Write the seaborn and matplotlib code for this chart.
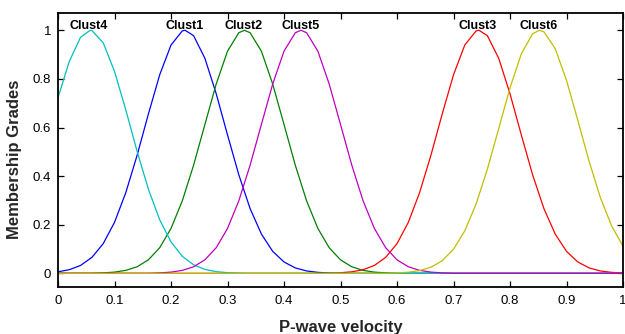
import numpy as np
import pandas as pd
import matplotlib
matplotlib.use("Agg")
import matplotlib.pyplot as plt
import seaborn as sns

# ---- data ----
x_grid = [round(0.02 * i, 2) for i in range(51)]

clust4 = [0.7226, 0.872, 0.9715, 0.999, 0.9485, 0.831, 0.6724, 0.5021, 0.3461, 0.2203,
          0.1294, 0.0702, 0.0351, 0.0162, 0.0069, 0.0027, 0.001] + [0.0] * 34
clust1 = [0.0063, 0.0150, 0.0326, 0.0657, 0.1221, 0.2096, 0.3321, 0.4855, 0.6554, 0.8167,
          0.9394, 0.9975, 0.9778, 0.8847, 0.7390, 0.5698, 0.4056, 0.2665, 0.1616, 0.0905,
          0.0468, 0.0223, 0.0098, 0.0040, 0.0015] + [0.0] * 26
clust2 = [0.0] * 4 + [0.0019, 0.0050, 0.0122, 0.0270, 0.0556, 0.1054, 0.1845, 0.2982, 0.4449,
                      0.6126, 0.7788, 0.9139, 0.99, 0.99, 0.9139, 0.7788, 0.6126, 0.4449,
                      0.2982, 0.1845, 0.1054, 0.0556, 0.0270, 0.0122, 0.0050, 0.0019] + [0.0] * 21
clust5 = [0.0] * 9 + [0.0019, 0.0050, 0.0122, 0.0270, 0.0556, 0.1054, 0.1845, 0.2982, 0.4449,
                      0.6126, 0.7788, 0.9139, 0.99, 0.99, 0.9139, 0.7788, 0.6126, 0.4449,
                      0.2982, 0.1845, 0.1054, 0.0556, 0.0270, 0.0122, 0.0050, 0.0019] + [0.0] * 16
clust3 = [0.0] * 25 + [0.0025, 0.0063, 0.0150, 0.0326, 0.0657, 0.1221, 0.2096, 0.3321, 0.4855,
                       0.6554, 0.8167, 0.9394, 0.9975, 0.9778, 0.8847, 0.7390, 0.5698, 0.4056,
                       0.2665, 0.1616, 0.0905, 0.0468, 0.0223, 0.0098, 0.0040, 0.0015]
clust6 = [0.0] * 30 + [0.0017, 0.0046, 0.0112, 0.0251, 0.0519, 0.0992, 0.1751, 0.2852, 0.4290,
                       0.5955, 0.7631, 0.9027, 0.9857, 0.9936, 0.9246, 0.7942, 0.6298, 0.4610,
                       0.3115, 0.1943, 0.1119]

cluster_names = ["Clust1", "Clust2", "Clust3", "Clust4", "Clust5", "Clust6"]
cluster_values = [clust1, clust2, clust3, clust4, clust5, clust6]
# x position of each curve's peak (value 1.0)
peak_x = [0.225, 0.33, 0.745, 0.057, 0.43, 0.852]
colors = ["#0000ff", "#008000", "#ff0000", "#00bfbf", "#bf00bf", "#bfbf00"]

x_ticks = [0, 0.1, 0.2, 0.3, 0.4, 0.5, 0.6, 0.7, 0.8, 0.9, 1]
x_tick_labels = ["0", "0.1", "0.2", "0.3", "0.4", "0.5", "0.6", "0.7", "0.8", "0.9", "1"]
y_ticks = [0, 0.2, 0.4, 0.6, 0.8, 1]
y_tick_labels = ["0", "0.2", "0.4", "0.6", "0.8", "1"]

rows = []
for name, vals, px in zip(cluster_names, cluster_values, peak_x):
    assert len(vals) == len(x_grid)
    for xv, yv in zip(x_grid, vals):
        rows.append({"x": xv, "y": yv, "cluster": name})
    rows.append({"x": px, "y": 1.0, "cluster": name})
df = pd.DataFrame(rows).sort_values(["cluster", "x"]).drop_duplicates(["cluster", "x"], keep="last")

sns.set_theme(style="ticks")
plt.rcParams["font.family"] = ["Liberation Sans", "DejaVu Sans"]

fig = plt.figure(figsize=(6.25, 3.34), dpi=100)
ax = fig.add_axes([0.0928, 0.1416, 0.904, 0.8194])

sns.lineplot(data=df, x="x", y="y", hue="cluster", palette=dict(zip(cluster_names, colors)),
             estimator=None, sort=True, linewidth=0.9, legend=False, ax=ax)

label_offsets = [0.0, -0.002, -0.002, -0.002, 0.0, -0.002]
for name, cx, dx in zip(cluster_names, peak_x, label_offsets):
    ax.text(cx + dx, 1.006, name, ha="center", va="baseline", fontsize=9,
            fontweight="bold", color="black")

ax.set_xlim(0, 1)
ax.set_ylim(-0.055, 1.071)
ax.set_xticks(x_ticks)
ax.set_xticklabels(x_tick_labels)
ax.set_yticks(y_ticks)
ax.set_yticklabels(y_tick_labels)
ax.tick_params(direction="in", length=4, width=0.9, top=True, right=True,
               labelsize=9.5, colors="black", pad=5)
ax.tick_params(axis="x", pad=6)
for s in ax.spines.values():
    s.set_visible(True)
    s.set_linewidth(1.3)
    s.set_color("black")

ax.set_xlabel("P-wave velocity", fontsize=12, fontweight="bold")
ax.set_ylabel("Membership Grades", fontsize=12, fontweight="bold")
ax.xaxis.set_label_coords(0.5, -0.123)
ax.yaxis.set_label_coords(-0.064, 0.467)

fig.savefig("out.png", dpi=100)
